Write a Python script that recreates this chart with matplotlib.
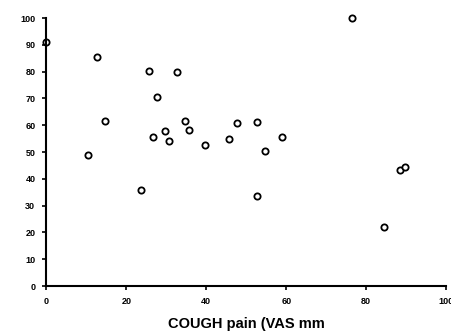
import matplotlib
matplotlib.use('Agg')
import matplotlib.pyplot as plt
import numpy as np

# cough pain VAS (x) vs second VAS score (y)
cough_vas = [0, 12.6, 14.6, 10.4, 25.6, 32.6, 27.6, 26.6, 29.6, 30.6, 34.6, 35.6,
             39.6, 45.6, 47.7, 52.7, 54.6, 58.9, 23.6, 52.8, 84.5, 88.6, 89.7, 76.5]
other_vas = [91, 85.4, 61.6, 49, 80.2, 80, 70.5, 55.6, 57.8, 54, 61.6, 58.2,
             52.6, 54.7, 61, 61.4, 50.4, 55.7, 36, 33.6, 21.9, 43.2, 44.6, 100]

xticks = [0, 20, 40, 60, 80, 100]
yticks = list(range(0, 101, 10))

plt.rcParams['font.family'] = ['Liberation Sans', 'DejaVu Sans']

fig = plt.figure(figsize=(4.51, 3.35), dpi=100)
ax = fig.add_axes([0.103, 0.146, 0.886, 0.80])

ax.plot(cough_vas, other_vas, linestyle='none', marker='o', markersize=4.5,
        markerfacecolor='white', markeredgecolor='black', markeredgewidth=1.3,
        clip_on=False)

ax.set_xlim(0, 100)
ax.set_ylim(0, 100)
ax.set_xticks(xticks)
ax.set_yticks(yticks)
ax.set_xticklabels([str(t) for t in xticks], fontsize=6.5, fontweight='bold')
ax.set_yticklabels([str(t) for t in yticks], fontsize=6.5, fontweight='bold')
ax.tick_params(direction='out', length=3, width=1.2, pad=5)

for s in ['top', 'right']:
    ax.spines[s].set_visible(False)
for s in ['left', 'bottom']:
    ax.spines[s].set_linewidth(1.5)

ax.set_xlabel('COUGH pain (VAS mm', fontsize=10.5, fontweight='bold', labelpad=8)

fig.savefig('out.png', dpi=100)
